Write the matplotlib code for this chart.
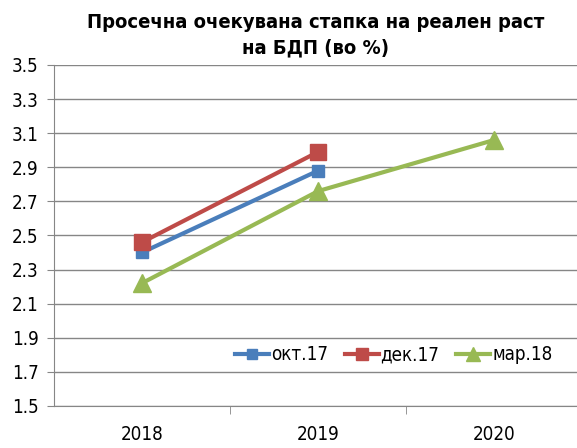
import numpy as np
import matplotlib
matplotlib.use('Agg')
from matplotlib import pyplot as plt

plt.rcParams['font.family'] = ['DejaVu Sans']
plt.rcParams['font.stretch'] = 'condensed'

years = ['2018', '2019', '2020']
okt17 = [2.40, 2.88]
dek17 = [2.46, 2.99]
mar18 = [2.22, 2.76, 3.06]

fig = plt.figure(figsize=(5.77, 4.48), dpi=100)
ax = fig.add_axes([0.0936, 0.094, 0.9064, 0.761])

x = np.arange(len(years))
ax.plot(x[:2], okt17, color='#4a7ebb', lw=3.0, marker='s', ms=9, label='окт.17')
ax.plot(x[:2], dek17, color='#be4b48', lw=3.0, marker='s', ms=12, label='дек.17')
ax.plot(x, mar18, color='#98b954', lw=3.0, marker='^', ms=13, label='мар.18')

yt = np.arange(1.5, 3.51, 0.2)
ax.set_ylim(1.5, 3.5)
ax.set_yticks(yt)
ax.set_yticklabels(['%.1f' % v for v in yt], fontsize=13.5)
ax.set_xlim(-0.5, 2.47)
ax.set_xticks(x)
ax.set_xticklabels(years, fontsize=13.5)
ax.set_xticks([0.5, 1.5], minor=True)
ax.tick_params(axis='x', which='major', length=0, pad=14)
ax.tick_params(axis='x', which='minor', length=6, color='#868686')
ax.tick_params(axis='y', length=5, color='#868686', pad=6)
ax.grid(axis='y', color='#868686', lw=1)
ax.set_axisbelow(True)
for s in ['top', 'right']:
    ax.spines[s].set_visible(False)
for s in ['left', 'bottom']:
    ax.spines[s].set_color('#868686')

ax.set_title('Просечна очекувана стапка на реален раст\nна БДП (во %)',
             fontsize=14.5, fontweight='bold', pad=8, linespacing=1.45)

leg = ax.legend(loc='center right', bbox_to_anchor=(0.985, 0.15), ncol=3, frameon=False,
                fontsize=13.5, handlelength=1.8, handletextpad=0.1, columnspacing=0.9,
                markerscale=0.75)

fig.savefig('out.png', dpi=100)
